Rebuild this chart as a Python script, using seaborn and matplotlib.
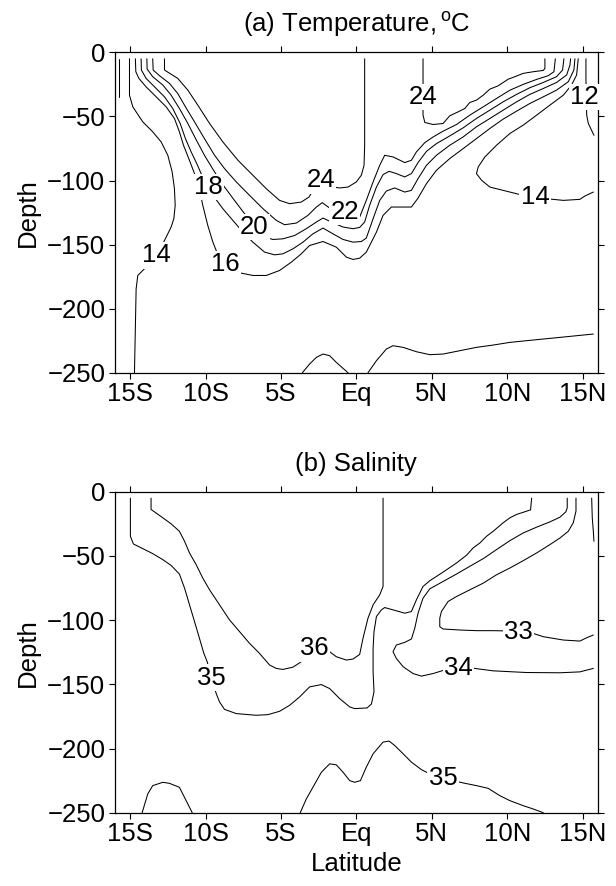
import numpy as np
import pandas as pd
import matplotlib
matplotlib.use("Agg")
import matplotlib.pyplot as plt
import seaborn as sns

# ---------------- data: contour lines (latitude, depth) ----------------
# (a) Temperature
t12w_lat = [-15.75, -15.75]
t12w_dep = [-5, -34.7]

t14w_lat = [-15.04, -15.04, -14.82, -14.16, -13.50, -12.94, -12.50, -12.21, -12.06, -12.01, -12.10,
            -12.28, -12.61, -12.94, -13.30, -14.05, -14.49, -14.60, -14.71]
t14w_dep = [-5, -33.4, -42.5, -54.2, -62.0, -69.9, -80.3, -93.3, -106.4, -119.4, -129.8,
            -136.3, -144.2, -152.0, -160.0, -168.9, -174.1, -184.6, -250]

t16_lat = [-14.65, -14.62, -14.42, -13.94, -13.27, -12.61, -12.06, -11.73, -11.46, -11.11, -10.73, -10.44,
           -10.18, -9.85, -9.51, -9.25, -8.74, -7.96, -6.86, -5.97, -5.09, -4.31, -3.65, -3.10, -2.21,
           -1.33, -0.66, -0.22, 0.22, 0.66, 1.33, 1.77, 2.32, 3.65, 4.09, 4.65, 5.31, 6.19, 7.08, 7.96,
           8.85, 9.73, 10.62, 11.50, 12.39, 13.27, 14.05, 14.42, 14.49]
t16_dep = [-5, -15.1, -20.3, -26.9, -34.7, -42.5, -51.6, -62.0, -72.5, -82.9, -94.6, -105.1,
           -119.4, -135.0, -148.1, -155.9, -166.0, -171.5, -174.1, -174.1, -170.2, -163.7, -157.2, -150.7, -147.6,
           -152.0, -159.8, -161.6, -160.6, -155.9, -140.3, -127.2, -120.7, -120.7, -113.7, -102.4, -92.0, -82.9, -75.1, -67.3,
           -59.4, -52.1, -45.9, -39.9, -34.7, -29.5, -22.9, -13.8, -5]

t18_lat = [-14.27, -14.25, -13.94, -13.38, -12.72, -12.17, -11.68, -11.33, -10.95, -10.58, -10.29, -9.80,
           -9.34, -8.85, -8.19, -7.52, -6.86, -6.08, -5.42, -4.87, -4.20, -3.54, -2.88, -2.21, -1.55,
           -0.88, -0.22, 0.33, 0.66, 1.11, 1.55, 1.99, 2.54, 3.21, 3.65, 4.09, 4.65, 5.31, 6.19, 7.08,
           7.96, 8.85, 9.73, 10.62, 11.50, 12.39, 13.27, 13.94, 14.16, 14.20]
t18_dep = [-5, -13.8, -20.3, -26.9, -34.7, -43.8, -55.5, -67.3, -77.7, -86.8, -94.6, -105.0,
           -114.2, -122.0, -131.1, -140.3, -148.1, -155.9, -158.0, -157.2, -153.3, -148.1, -141.6, -137.1, -141.6,
           -146.0, -148.1, -147.6, -144.9, -129.8, -115.5, -108.2, -105.8, -109.0, -107.7, -98.5, -88.1, -80.3, -72.5, -66.0,
           -58.1, -51.6, -45.1, -38.6, -32.8, -28.2, -23.5, -17.7, -9.9, -5]

t20_lat = [-13.89, -13.87, -13.50, -12.83, -12.28, -11.73, -11.17, -10.66, -10.07, -9.40, -8.74, -8.08,
           -7.41, -6.75, -6.08, -5.53, -4.87, -4.09, -3.32, -2.65, -2.21, -1.66, -0.88, -0.22, 0.22,
           0.55, 0.88, 1.33, 1.77, 2.17, 2.65, 3.21, 3.65, 4.09, 4.65, 5.31, 6.19, 7.08, 7.96, 8.85,
           9.73, 10.62, 11.50, 12.39, 13.27, 13.67, 13.76]
t20_dep = [-5, -13.0, -19.0, -25.5, -33.4, -43.8, -55.5, -67.3, -80.3, -93.3, -105.1, -115.5,
           -125.9, -136.3, -144.2, -146.0, -145.5, -142.9, -137.6, -132.4, -129.3, -132.4, -136.3, -137.6, -136.6,
           -132.4, -119.4, -105.1, -95.4, -92.8, -94.6, -97.2, -94.6, -86.0, -77.2, -71.2, -65.2, -58.9, -51.6, -45.1,
           -38.6, -32.8, -27.6, -23.5, -19.0, -13.8, -5]

t22_lat = [-13.50, -13.47, -13.05, -12.39, -11.84, -11.33, -10.73, -10.07, -9.40, -8.74, -7.96, -7.08,
           -6.19, -5.31, -4.76, -3.98, -3.21, -2.65, -2.26, -1.77, -1.33, -0.77, -0.22, 0.22, 0.66,
           1.11, 1.55, 1.88, 2.43, 3.21, 3.65, 3.98, 4.54, 5.09, 5.75, 6.64, 7.52, 8.41, 9.29, 10.18,
           11.06, 11.95, 12.72, 13.10, 13.19]
t22_dep = [-5, -13.8, -18.2, -24.2, -32.1, -42.5, -54.2, -67.3, -80.3, -90.7, -101.1, -111.6,
           -122.0, -131.1, -134.5, -133.2, -127.2, -120.7, -117.3, -121.5, -124.6, -128.5, -129.8, -128.5, -115.5,
           -101.1, -88.1, -80.3, -81.6, -86.0, -84.2, -77.7, -70.4, -66.0, -61.5, -56.3, -49.0, -42.5, -36.0, -29.5,
           -25.0, -21.1, -18.2, -15.1, -5]

t24w_lat = [-12.72, -12.72, -11.84, -11.17, -10.51, -9.73, -8.85, -7.85, -6.86, -5.97, -5.09, -4.42,
            -3.65, -3.14, -2.83, -2.43, -1.55, -1.11, -0.55, 0.00, 0.33, 0.51, 0.55, 0.55]
t24w_dep = [-5, -13.8, -20.3, -29.5, -41.2, -55.5, -69.9, -84.2, -95.9, -106.4, -115.5, -118.1,
            -116.8, -112.9, -106.9, -103.2, -105.1, -105.8, -105.1, -101.1, -95.9, -88.1, -72.5, -5]

t24e_lat = [4.42, 4.42, 4.54, 5.09, 5.75, 6.19, 6.75, 7.19, 7.52, 7.96, 8.41, 8.85, 9.40, 10.07,
            10.51, 11.06, 11.73, 12.39, 12.50, 12.50]
t24e_dep = [-5, -49.0, -54.7, -56.3, -55.5, -49.5, -46.4, -43.8, -39.1, -37.3, -33.4, -28.7, -26.1, -20.9,
            -19.0, -16.4, -15.1, -14.1, -12.5, -5]

t14e_lat = [14.71, 14.60, 14.27, 13.72, 12.83, 11.95, 11.06, 10.18, 9.29, 8.52, 8.08, 7.96, 8.30, 8.85,
            10.18, 11.06, 11.84, 12.61, 13.72, 14.82, 15.15, 15.71]
t14e_dep = [-5, -17.7, -25.5, -33.4, -41.2, -49.0, -56.8, -63.3, -72.5, -81.6, -89.4, -94.6, -99.8, -105.1,
            -109.0, -111.6, -112.9, -114.2, -115.5, -114.7, -112.1, -109.0]

t12e_lat = [15.22, 15.22, 15.27, 15.38, 15.75]
t12e_dep = [-5, -20.3, -49.0, -55.5, -64.7]

t14d_lat = [0.77, 1.33, 1.99, 2.43, 3.10, 3.98, 4.87, 5.75, 6.86, 7.96, 9.07, 10.18, 11.28, 12.39,
            13.50, 14.60, 15.71]
t14d_dep = [-250, -240.6, -231.5, -228.9, -230.2, -233.6, -235.9, -235.4, -232.8, -230.2, -228.4, -226.3,
            -225.0, -223.7, -222.4, -221.1, -219.8]

t14b_lat = [-3.58, -3.10, -2.65, -2.21, -1.77, -1.33, -0.88, -0.55]
t14b_dep = [-250, -243.2, -238.0, -235.4, -236.7, -241.9, -246.6, -250]

temp_labels = ["14", "16", "18", "20", "22", "24", "24", "14", "12"]
temp_lab_lat = [-13.23, -8.67, -9.80, -6.75, -0.77, -2.37, 4.42, 11.84, 15.10]
temp_lab_dep = [-158.5, -165.0, -105.1, -136.3, -124.6, -99.8, -34.7, -112.9, -34.7]

# (b) Salinity
s35w_lat = [-14.98, -14.98, -14.78, -14.16, -13.50, -12.83, -12.28, -11.73, -11.39, -11.06, -10.73, -10.40,
            -10.11, -9.89, -9.60, -9.29, -9.07, -8.74, -7.96, -6.64, -5.86, -5.09, -4.42, -3.76, -3.10,
            -2.32, -1.77, -1.11, -0.44, -0.11, 0.71, 1.00, 1.17, 1.11, 1.11, 1.17, 1.33, 1.66, 1.88,
            2.43, 3.21, 3.65, 3.98, 4.42, 4.87, 5.75, 6.64, 7.30, 7.74, 8.19, 8.63, 9.07, 9.73, 10.18,
            10.62, 11.17, 11.55, 11.62]
s35w_dep = [-5, -34.7, -40.7, -44.3, -48.2, -52.9, -57.4, -64.1, -75.1, -88.1, -101.1, -114.2,
            -125.9, -132.4, -145.0, -157.2, -163.7, -169.5, -172.8, -174.1, -173.6, -171.0, -166.3, -159.8, -152.0,
            -150.2, -153.3, -161.1, -167.6, -168.9, -168.4, -165.3, -155.9, -140.3, -122.0, -109.0, -97.2, -92.0, -90.2,
            -92.0, -94.6, -93.3, -84.2, -73.8, -69.3, -62.6, -55.5, -49.5, -43.8, -39.9, -34.7, -30.8, -24.2, -20.3,
            -17.7, -15.6, -14.1, -5]

s36_lat = [-13.61, -13.61, -12.83, -12.28, -11.73, -11.39, -11.06, -10.62, -10.18, -9.73, -9.07, -8.41,
           -7.74, -7.08, -6.42, -5.75, -5.31, -4.87, -4.20, -3.65, -3.21, -2.70, -2.21, -1.77, -1.33,
           -0.66, -0.22, 0.22, 0.44, 0.77, 1.11, 1.55, 1.77, 1.77]
s36_dep = [-5, -13.8, -20.3, -25.0, -30.8, -38.6, -47.7, -56.8, -67.3, -76.4, -88.1, -99.8,
           -109.0, -118.1, -125.9, -135.0, -137.6, -138.4, -136.6, -132.4, -127.2, -122.0, -119.4, -124.6, -128.5,
           -131.1, -130.3, -126.7, -114.2, -98.5, -88.1, -80.3, -73.8, -5]

s34_lat = [15.71, 14.82, 13.50, 11.28, 9.07, 7.52, 6.75, 5.97, 5.09, 4.31, 3.76, 3.10, 2.65, 2.43,
           2.65, 3.21, 3.65, 3.87, 4.09, 4.42, 4.87, 5.75, 6.64, 7.52, 8.41, 9.29, 10.18, 11.06, 11.95,
           12.83, 13.50, 13.89, 13.98, 13.98]
s34_dep = [-137.6, -140.3, -141.0, -140.8, -139.5, -137.1, -137.6, -138.4, -141.6, -143.6, -141.6, -136.3, -129.8, -124.6,
           -119.4, -117.3, -114.7, -106.4, -94.6, -82.9, -75.6, -69.9, -64.1, -58.1, -52.1, -45.1, -38.1, -32.1, -27.6,
           -23.5, -19.8, -15.6, -12.5, -5]

s33_lat = [14.56, 14.56, 14.38, 14.05, 13.50, 12.83, 11.95, 11.06, 10.18, 9.29, 8.41, 7.52, 6.64, 6.08,
           5.64, 5.53, 5.53, 5.75, 6.86, 7.96, 9.07, 9.96, 10.73, 11.50, 12.39, 13.72, 14.82, 15.27, 15.71]
s33_dep = [-5, -15.1, -24.2, -30.8, -36.0, -41.2, -47.7, -53.7, -59.4, -64.7, -71.2, -76.4, -81.6, -85.5,
           -93.3, -98.5, -105.1, -106.9, -107.7, -108.2, -108.2, -108.4, -109.0, -109.5, -112.9, -115.5, -116.3, -113.7, -111.6]

s32e_lat = [15.60, 15.64, 15.71, 15.75]
s32e_dep = [-5, -20.3, -30.8, -38.6]

s35a_lat = [-14.20, -13.83, -13.50, -12.83, -12.39, -11.73, -10.88]
s35a_dep = [-250, -235.4, -228.9, -226.3, -227.1, -230.2, -250]

s35b_lat = [-3.72, -3.32, -2.88, -2.32, -1.77, -1.33, -0.88, -0.44, -0.11, 0.27, 0.66, 1.11, 1.77, 2.17,
            2.54, 3.10, 3.65, 4.31, 4.98, 5.53, 6.42, 7.08, 7.96, 8.74, 9.51, 10.18, 11.06, 11.73, 12.39]
s35b_dep = [-250, -239.3, -230.2, -218.5, -211.9, -212.7, -218.5, -225.0, -226.3, -225.0, -214.5, -204.1, -195.0, -194.2,
            -197.6, -204.1, -210.6, -216.4, -220.5, -223.2, -225.0, -226.8, -228.9, -231.0, -236.7, -240.6, -244.5, -247.1, -250]

sal_labels = ["36", "35", "33", "34", "35"]
sal_lab_lat = [-2.77, -9.62, 10.73, 6.75, 5.75]
sal_lab_dep = [-122.0, -144.9, -109.0, -137.6, -222.9]

xtick_vals = [-15, -10, -5, 0, 5, 10, 15]
xtick_labels = ["15S", "10S", "5S", "Eq", "5N", "10N", "15N"]
ytick_vals = [0, -50, -100, -150, -200, -250]

temp_lines = [(t12w_lat, t12w_dep), (t14w_lat, t14w_dep), (t16_lat, t16_dep), (t18_lat, t18_dep),
              (t20_lat, t20_dep), (t22_lat, t22_dep), (t24w_lat, t24w_dep), (t24e_lat, t24e_dep),
              (t14e_lat, t14e_dep), (t12e_lat, t12e_dep), (t14d_lat, t14d_dep), (t14b_lat, t14b_dep)]
sal_lines = [(s35w_lat, s35w_dep), (s36_lat, s36_dep), (s34_lat, s34_dep), (s33_lat, s33_dep),
             (s32e_lat, s32e_dep), (s35a_lat, s35a_dep), (s35b_lat, s35b_dep)]

# ---------------- style ----------------
sns.set_theme(style="ticks")
plt.rcParams["font.family"] = ["Liberation Sans", "DejaVu Sans"]
plt.rcParams["mathtext.fontset"] = "custom"
plt.rcParams["mathtext.rm"] = "Liberation Sans"
plt.rcParams["mathtext.it"] = "Liberation Sans"
for key in ["text.color", "axes.labelcolor", "xtick.color", "ytick.color",
            "xtick.labelcolor", "ytick.labelcolor", "axes.edgecolor"]:
    plt.rcParams[key] = "black"
FS = 18.5

fig = plt.figure(figsize=(6.16, 8.86), dpi=100)
ax1 = fig.add_axes([0.1867, 0.5793, 0.7836, 0.3616])
ax2 = fig.add_axes([0.1867, 0.0827, 0.7836, 0.3623])


def draw_panel(ax, lines, labels, lab_lat, lab_dep, title, xlabel):
    for la, de in lines:
        df = pd.DataFrame({"lat": la, "dep": de})
        sns.lineplot(data=df, x="lat", y="dep", sort=False, estimator=None,
                     color="black", linewidth=0.75, ax=ax)
    for t, la, de in zip(labels, lab_lat, lab_dep):
        ax.text(la, de, t, ha="center", va="center", fontsize=FS, color="black", zorder=4,
                bbox=dict(facecolor="white", edgecolor="none", pad=1.0))
    ax.set_xlim(-16, 16)
    ax.set_ylim(-250, 0)
    ax.set_xticks(xtick_vals)
    ax.set_xticklabels(xtick_labels)
    ax.set_yticks(ytick_vals)
    ax.set_yticklabels([f"\u2212{abs(v)}" if v < 0 else f"{v}" for v in ytick_vals])
    ax.tick_params(axis="both", which="both", direction="out", length=4, width=0.8,
                   labelsize=FS, top=True, right=True, color="black", labelcolor="black", pad=3)
    for s in ax.spines.values():
        s.set_visible(True)
        s.set_linewidth(0.9)
        s.set_color("black")
    ax.set_ylabel("Depth", fontsize=FS, labelpad=5, color="black")
    ax.set_xlabel(xlabel, fontsize=FS, labelpad=4, color="black")
    ax.set_title(title, fontsize=FS, pad=15, color="black")
    ax.grid(False)


draw_panel(ax1, temp_lines, temp_labels, temp_lab_lat, temp_lab_dep,
           r"(a) Temperature,$\,^{\mathrm{o}}$C", "")
draw_panel(ax2, sal_lines, sal_labels, sal_lab_lat, sal_lab_dep,
           "(b) Salinity", "Latitude")

fig.savefig("out.png", dpi=100)
